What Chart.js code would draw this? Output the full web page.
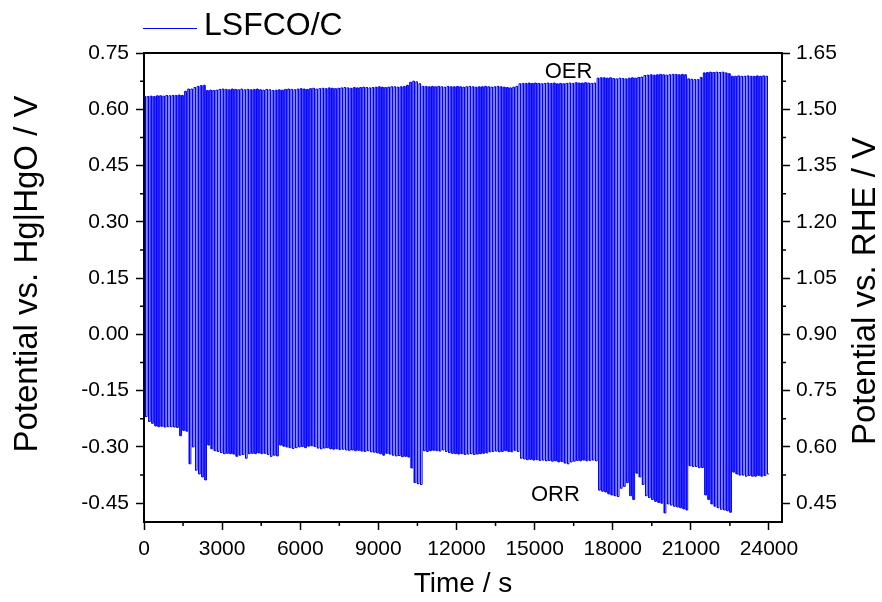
<!DOCTYPE html>
<html><head><meta charset="utf-8">
<script src="https://cdn.jsdelivr.net/npm/chart.js@4.4.1/dist/chart.umd.min.js"></script>
<style>html,body{margin:0;padding:0;background:#fff;overflow:hidden}#wrap{width:882px;height:602px}</style>
</head><body><div id="wrap"><canvas id="c" width="882" height="602"></canvas></div>
<script>
// ---- data ----
const seriesName = 'LSFCO/C';
const xTitle = 'Time / s';
const yLeftTitle = 'Potential vs. Hg|HgO / V';
const yRightTitle = 'Potential vs. RHE / V';
const stepSeconds = 60;           // each cycle: 60 s OER, then 60 s ORR
const rheOffset = 0.9;            // RHE = Hg|HgO + 0.9 V
// OER plateau potential (V vs Hg|HgO), one per cycle
const oerPotential = [
 0.634,0.634,0.635,0.634,0.636,0.636,0.635,0.637,0.636,0.637,
 0.637,0.638,0.637,0.648,0.654,0.654,0.658,0.661,0.663,0.664,
 0.650,0.651,0.650,0.651,0.653,0.654,0.653,0.652,0.654,0.653,
 0.652,0.654,0.652,0.653,0.652,0.653,0.654,0.652,0.651,0.653,
 0.652,0.650,0.651,0.652,0.651,0.653,0.654,0.653,0.652,0.654,
 0.655,0.654,0.653,0.655,0.656,0.654,0.655,0.656,0.655,0.657,
 0.656,0.655,0.656,0.657,0.658,0.657,0.656,0.658,0.657,0.658,
 0.659,0.658,0.657,0.658,0.659,0.660,0.659,0.658,0.659,0.660,
 0.660,0.659,0.660,0.661,0.664,0.672,0.675,0.673,0.668,0.661,
 0.661,0.660,0.661,0.660,0.661,0.660,0.659,0.661,0.660,0.660,
 0.661,0.660,0.659,0.660,0.661,0.660,0.659,0.660,0.660,0.661,
 0.660,0.659,0.660,0.661,0.660,0.659,0.658,0.657,0.659,0.661,
 0.668,0.669,0.669,0.670,0.669,0.670,0.669,0.668,0.669,0.670,
 0.669,0.670,0.668,0.669,0.668,0.669,0.670,0.669,0.671,0.670,
 0.670,0.671,0.670,0.669,0.670,0.683,0.684,0.684,0.683,0.684,
 0.682,0.681,0.683,0.682,0.681,0.683,0.684,0.683,0.685,0.686,
 0.690,0.691,0.692,0.691,0.692,0.693,0.692,0.691,0.692,0.693,
 0.693,0.692,0.693,0.692,0.681,0.680,0.679,0.679,0.685,0.697,
 0.698,0.699,0.698,0.699,0.698,0.699,0.697,0.695,0.688,0.688,
 0.689,0.688,0.688,0.689,0.688,0.688,0.689,0.688,0.689,0.688
];
// ORR plateau potential (V vs Hg|HgO), one per cycle
const orrPotential = [
 -0.219,-0.232,-0.237,-0.244,-0.246,-0.245,-0.247,-0.246,-0.246,-0.247,
 -0.248,-0.270,-0.256,-0.258,-0.345,-0.300,-0.362,-0.372,-0.380,-0.388,
 -0.295,-0.305,-0.310,-0.312,-0.315,-0.318,-0.317,-0.318,-0.319,-0.325,
 -0.322,-0.320,-0.330,-0.318,-0.317,-0.318,-0.316,-0.318,-0.317,-0.320,
 -0.325,-0.322,-0.324,-0.295,-0.298,-0.300,-0.302,-0.304,-0.302,-0.300,
 -0.299,-0.302,-0.298,-0.297,-0.299,-0.303,-0.305,-0.303,-0.302,-0.305,
 -0.306,-0.305,-0.307,-0.306,-0.308,-0.309,-0.308,-0.310,-0.309,-0.311,
 -0.312,-0.310,-0.313,-0.314,-0.316,-0.318,-0.322,-0.317,-0.319,-0.322,
 -0.324,-0.323,-0.326,-0.325,-0.327,-0.356,-0.395,-0.398,-0.400,-0.310,
 -0.312,-0.310,-0.309,-0.310,-0.311,-0.308,-0.312,-0.315,-0.317,-0.318,
 -0.319,-0.318,-0.320,-0.319,-0.318,-0.320,-0.319,-0.318,-0.317,-0.316,
 -0.313,-0.312,-0.311,-0.313,-0.312,-0.310,-0.312,-0.313,-0.309,-0.312,
 -0.330,-0.332,-0.334,-0.333,-0.335,-0.334,-0.336,-0.335,-0.337,-0.336,
 -0.338,-0.337,-0.340,-0.339,-0.343,-0.345,-0.340,-0.338,-0.336,-0.337,
 -0.335,-0.337,-0.336,-0.335,-0.337,-0.415,-0.418,-0.420,-0.425,-0.428,
 -0.430,-0.432,-0.410,-0.405,-0.395,-0.430,-0.440,-0.370,-0.380,-0.400,
 -0.430,-0.435,-0.440,-0.445,-0.448,-0.450,-0.476,-0.452,-0.455,-0.458,
 -0.460,-0.462,-0.465,-0.468,-0.350,-0.352,-0.352,-0.355,-0.355,-0.428,
 -0.440,-0.452,-0.458,-0.462,-0.466,-0.468,-0.470,-0.474,-0.367,-0.372,
 -0.375,-0.375,-0.378,-0.376,-0.378,-0.378,-0.376,-0.378,-0.376,-0.372
];
const timeTicks = [0,3000,6000,9000,12000,15000,18000,21000,24000];
const timeMinorTicks = [1500,4500,7500,10500,13500,16500,19500,22500];
const hgoTicks = [-0.45,-0.30,-0.15,0.00,0.15,0.30,0.45,0.60,0.75];
const hgoMinorTicks = [-0.375,-0.225,-0.075,0.075,0.225,0.375,0.525,0.675];
const rheTicks = [0.45,0.60,0.75,0.90,1.05,1.20,1.35,1.50,1.65];
const rheMinorTicks = [0.525,0.675,0.825,0.975,1.125,1.275,1.425,1.575];

// ---- build the stepped trace from the plateau values ----
const points = [];
oerPotential.forEach((oer, i) => {
  const t0 = i * 2 * stepSeconds;
  points.push({x: t0, y: oer});
  points.push({x: t0 + stepSeconds, y: oer});
  points.push({x: t0 + stepSeconds, y: orrPotential[i]});
  points.push({x: t0 + 2 * stepSeconds, y: orrPotential[i]});
});

const FONT = "'Liberation Sans', Arial, Helvetica, sans-serif";
const tickFont = {family: FONT, size: 21};
const titleFont = {family: FONT, size: 28, lineHeight: 1};

function axisCommon(extra) {
  return Object.assign({
    grid: {drawOnChartArea: false, drawTicks: true, tickLength: 8, tickWidth: 1.5, tickColor: '#000', color: '#000'},
    border: {display: true, color: '#000', width: 2},
  }, extra);
}

function rotatedText(ctx, text, cx, cy) {
  ctx.save();
  ctx.translate(cx, cy);
  ctx.rotate(-Math.PI / 2);
  ctx.textAlign = 'center'; ctx.textBaseline = 'middle';
  ctx.fillText(text, 0, 0);
  ctx.restore();
}

const decor = {
  id: 'decor',
  afterDraw(chart) {
    const {ctx, chartArea: a, scales} = chart;
    ctx.save();
    ctx.strokeStyle = '#000';
    // top frame line
    ctx.lineWidth = 2;
    ctx.beginPath(); ctx.moveTo(a.left - 1, a.top); ctx.lineTo(a.right + 1, a.top); ctx.stroke();
    // minor ticks
    ctx.lineWidth = 1.5;
    ctx.beginPath();
    hgoMinorTicks.forEach(v => { const y = scales.y.getPixelForValue(v); ctx.moveTo(a.left - 4, y); ctx.lineTo(a.left, y); });
    rheMinorTicks.forEach(v => { const y = scales.y2.getPixelForValue(v); ctx.moveTo(a.right, y); ctx.lineTo(a.right + 4, y); });
    timeMinorTicks.forEach(v => { const x = scales.x.getPixelForValue(v); ctx.moveTo(x, a.bottom); ctx.lineTo(x, a.bottom + 4); });
    ctx.stroke();
    // legend
    ctx.strokeStyle = '#0000ff'; ctx.lineWidth = 1;
    ctx.beginPath(); ctx.moveTo(143, 28.5); ctx.lineTo(197, 28.5); ctx.stroke();
    ctx.fillStyle = '#000';
    ctx.textBaseline = 'middle'; ctx.textAlign = 'left';
    ctx.font = '32px ' + FONT;
    ctx.fillText(seriesName, 204, 26);
    // vertical axis titles (both read bottom-to-top)
    ctx.font = '33px ' + FONT;
    rotatedText(ctx, yLeftTitle, 28, 274);
    rotatedText(ctx, yRightTitle, 866, 291);
    // annotations
    ctx.font = '22px ' + FONT; ctx.textAlign = 'center'; ctx.textBaseline = 'middle';
    ctx.fillText('OER', scales.x.getPixelForValue(16300), scales.y.getPixelForValue(0.700));
    ctx.fillText('ORR', scales.x.getPixelForValue(15800), scales.y.getPixelForValue(-0.427));
    ctx.restore();
  }
};

new Chart(document.getElementById('c'), {
  type: 'line',
  data: {datasets: [{
    label: seriesName, data: points, borderColor: '#0000ff', backgroundColor: '#0000ff',
    borderWidth: 1, pointRadius: 0, tension: 0, fill: false, yAxisID: 'y'
  }]},
  options: {
    responsive: false, animation: false, events: [],
    layout: {padding: {top: 53, left: 0, right: 0, bottom: 0}},
    plugins: {legend: {display: false}, tooltip: {enabled: false}},
    scales: {
      x: axisCommon({
        type: 'linear', min: 0, max: 24500,
        afterBuildTicks: s => { s.ticks = timeTicks.map(v => ({value: v})); },
        afterFit: s => { s.height = 80; },
        ticks: {font: tickFont, color: '#000', maxRotation: 0, autoSkip: false, padding: 7, callback: v => String(v)},
        title: {display: true, text: xTitle, font: titleFont, color: '#000', padding: {top: 0, bottom: 4}}
      }),
      y: axisCommon({
        type: 'linear', position: 'left', min: -0.5, max: 0.75,
        afterBuildTicks: s => { s.ticks = hgoTicks.map(v => ({value: v})); },
        afterFit: s => { s.width = 144; },
        ticks: {font: tickFont, color: '#000', padding: 7, callback: v => v.toFixed(2)},
        title: {display: false}
      }),
      y2: axisCommon({
        type: 'linear', position: 'right', min: -0.5 + rheOffset, max: 0.75 + rheOffset,
        afterBuildTicks: s => { s.ticks = rheTicks.map(v => ({value: v})); },
        afterFit: s => { s.width = 100; },
        ticks: {font: tickFont, color: '#000', padding: 6, callback: v => v.toFixed(2)},
        title: {display: false}
      })
    }
  },
  plugins: [decor]
});
</script>
</body></html>
